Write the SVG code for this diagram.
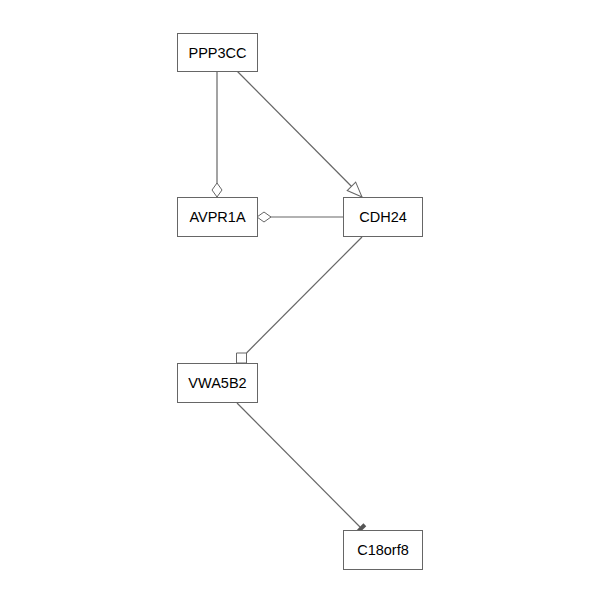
<svg xmlns="http://www.w3.org/2000/svg" width="600" height="600" viewBox="0 0 600 600">
<style>
.node rect{fill:#fff;stroke:#666;stroke-width:1}
.node text{font-family:"Liberation Sans",Arial,sans-serif;font-size:14.5px;fill:#000;text-anchor:middle;dominant-baseline:central}
.edge{stroke:#666;stroke-width:1.2;fill:none}
</style>
<defs>
<marker id="diamond" markerUnits="userSpaceOnUse" markerWidth="16" markerHeight="12" refX="14" refY="5" orient="auto" overflow="visible">
<path d="M0,5 L7,0 L14,5 L7,10 Z" fill="#fff" stroke="#666" stroke-width="1"/>
</marker>
<marker id="tri" markerUnits="userSpaceOnUse" markerWidth="16" markerHeight="14" refX="15" refY="6" orient="auto" overflow="visible">
<path d="M0,0 L15,6 L0,12 Z" fill="#fff" stroke="#666" stroke-width="1"/>
</marker>
<marker id="square" markerUnits="userSpaceOnUse" markerWidth="12" markerHeight="12" refX="10" refY="0" orient="0" overflow="visible">
<path d="M0,0 L10,0 L10,10 L0,10 Z" fill="#fff" stroke="#666" stroke-width="1"/>
</marker>
<marker id="tee" markerUnits="userSpaceOnUse" markerWidth="6" markerHeight="12" refX="3" refY="5" orient="auto" overflow="visible">
<path d="M0,0 L4,0 L4,10 L0,10 Z" fill="#555"/>
</marker>
</defs>
<g id="connectors">
<line class="edge" x1="217" y1="71" x2="217" y2="197" marker-end="url(#diamond)"/>
<line class="edge" x1="237" y1="71" x2="362" y2="197" marker-end="url(#tri)"/>
<line class="edge" x1="343" y1="217" x2="257" y2="217" marker-end="url(#diamond)"/>
<line class="edge" x1="362" y1="237" x2="246.5" y2="353" marker-end="url(#square)"/>
<line class="edge" x1="237" y1="403" x2="362" y2="529" marker-end="url(#tee)"/>
</g>
<g id="PPP3CC" class="node"><rect x="177.5" y="33.5" width="80" height="38"/><text x="217.5" y="52.5">PPP3CC</text></g>
<g id="AVPR1A" class="node"><rect x="177.5" y="197.5" width="80" height="39"/><text x="217.5" y="217">AVPR1A</text></g>
<g id="CDH24" class="node"><rect x="343.5" y="197.5" width="79" height="39"/><text x="383" y="217">CDH24</text></g>
<g id="VWA5B2" class="node"><rect x="177.5" y="363.5" width="80" height="39"/><text x="217.5" y="383">VWA5B2</text></g>
<g id="C18orf8" class="node"><rect x="343.5" y="530.5" width="79" height="39"/><text x="383" y="550">C18orf8</text></g>
</svg>
